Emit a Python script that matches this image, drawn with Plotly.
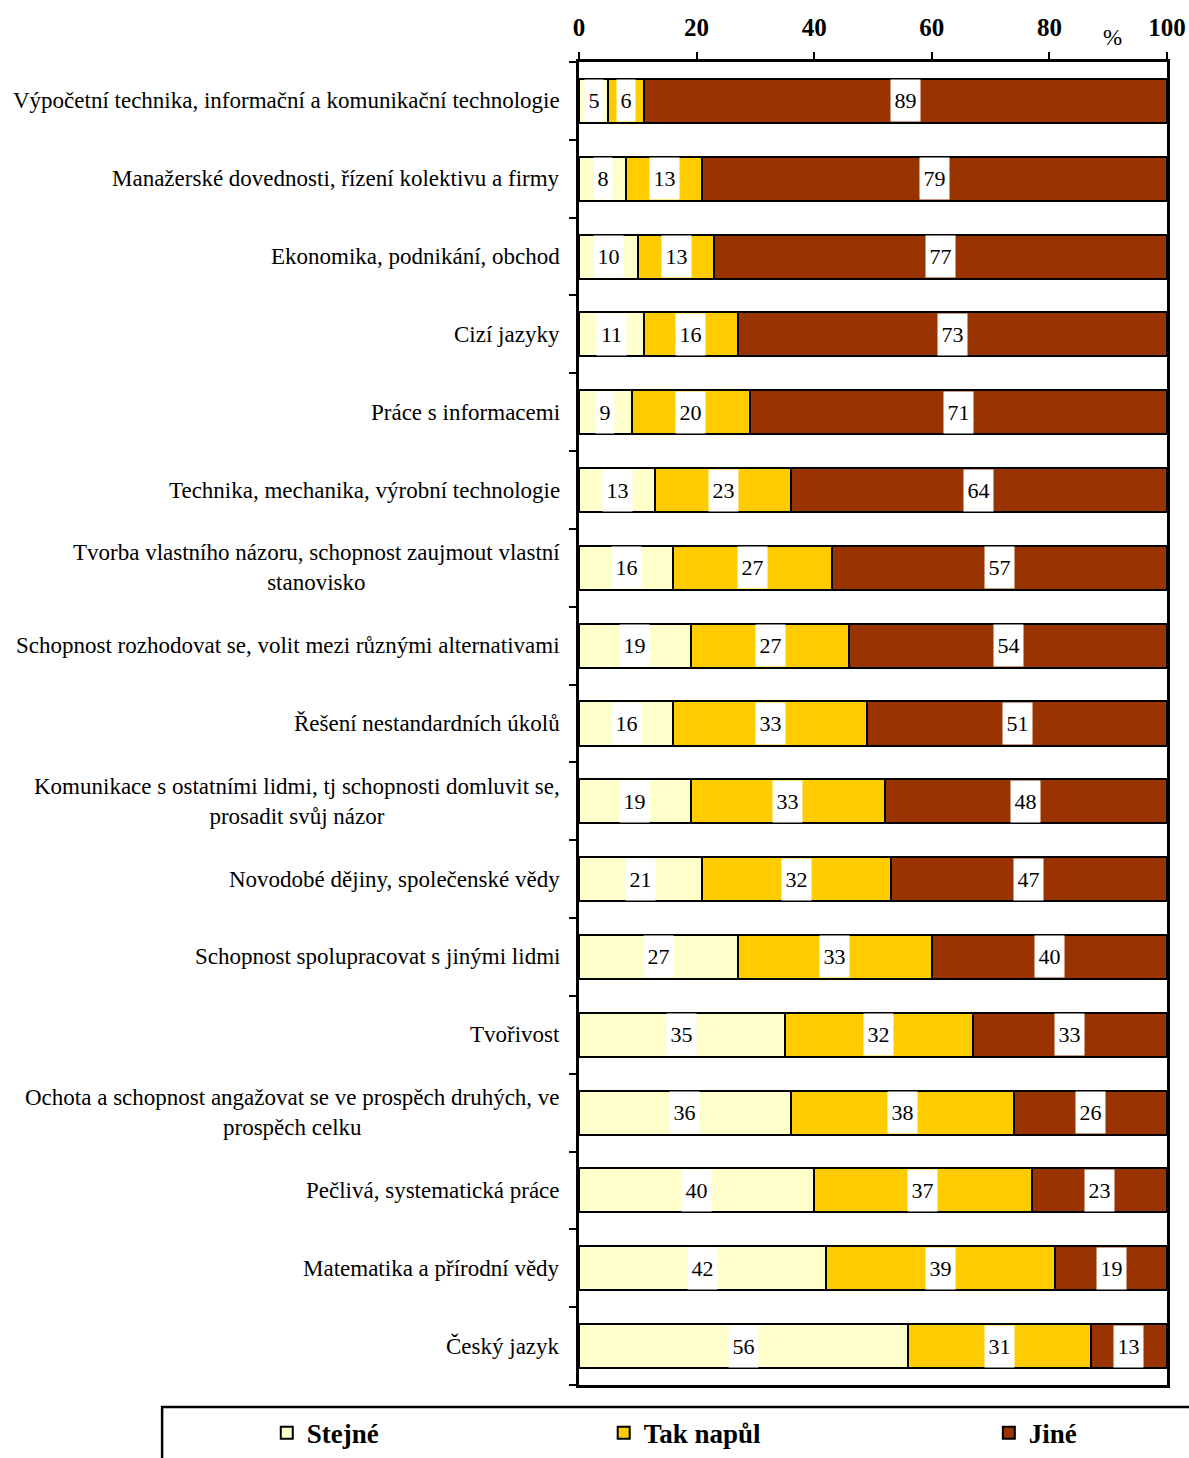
import plotly.graph_objects as go

categories = [
    "Výpočetní technika, informační a komunikační technologie",
    "Manažerské dovednosti, řízení kolektivu a firmy",
    "Ekonomika, podnikání, obchod",
    "Cizí jazyky",
    "Práce s informacemi",
    "Technika, mechanika, výrobní technologie",
    "Tvorba vlastního názoru, schopnost zaujmout vlastní<br>stanovisko",
    "Schopnost rozhodovat se, volit mezi různými alternativami",
    "Řešení nestandardních úkolů",
    "Komunikace s ostatními lidmi, tj schopnosti domluvit se,<br>prosadit svůj názor",
    "Novodobé dějiny, společenské vědy",
    "Schopnost spolupracovat s jinými lidmi",
    "Tvořivost",
    "Ochota a schopnost angažovat se ve prospěch druhých, ve<br>prospěch celku",
    "Pečlivá, systematická práce",
    "Matematika a přírodní vědy",
    "Český jazyk",
]
stejne = [5, 8, 10, 11, 9, 13, 16, 19, 16, 19, 21, 27, 35, 36, 40, 42, 56]
tak_napul = [6, 13, 13, 16, 20, 23, 27, 27, 33, 33, 32, 33, 32, 38, 37, 39, 31]
jine = [89, 79, 77, 73, 71, 64, 57, 54, 51, 48, 47, 40, 33, 26, 23, 19, 13]

series = [("Stejné", stejne, "#FFFFCC"), ("Tak napůl", tak_napul, "#FFCC00"), ("Jiné", jine, "#993300")]
x_ticks = [0, 20, 40, 60, 80, 100]

FONT = "Liberation Serif"
n = len(categories)
fig = go.Figure()
legends = ["legend2", "legend3", "legend4"]
for (name, vals, col), lg in zip(series, legends):
    fig.add_trace(go.Bar(
        y=list(range(n)), x=vals, name=name, orientation="h",
        marker=dict(color=col, line=dict(color="black", width=2)),
        legend=lg, hoverinfo="x+name",
    ))

annotations = []
for i in range(n):
    base = 0
    for name, vals, col in series:
        v = vals[i]
        annotations.append(dict(
            x=base + v / 2, y=i, xref="x", yref="y", text=str(v), showarrow=False,
            bgcolor="white", borderpad=0, width=18 if v < 10 else 29, height=41,
            font=dict(family=FONT, size=22, color="black"),
        ))
        base += v
    annotations.append(dict(
        x=0, y=i, xref="paper", yref="y", text=categories[i], showarrow=False,
        xanchor="right", align="center", xshift=-17,
        font=dict(family=FONT, size=23, color="black"),
    ))

annotations.append(dict(x=0.927, y=1, xref="paper", yref="paper", yshift=25, yanchor="middle",
                        text="%", showarrow=False, font=dict(family=FONT, size=23, color="black")))

fig.update_layout(
    width=1189, height=1458,
    margin=dict(l=579, r=22, t=62, b=73, autoexpand=False),
    paper_bgcolor="white", plot_bgcolor="white",
    barmode="stack", bargap=0.434,
    annotations=annotations,
    xaxis=dict(side="top", range=[0, 100], tickvals=x_ticks, ticks="outside", ticklen=7,
               tickwidth=2, tickcolor="black", showline=True, linecolor="black", linewidth=2.5,
               mirror=True, showgrid=False, zeroline=False, automargin=False,
               ticklabelstandoff=6,
               tickfont=dict(family=FONT, size=25, color="black", weight="bold")),
    yaxis=dict(range=[n - 0.5, -0.5], tickmode="array",
               tickvals=[k - 0.5 for k in range(n + 1)], showticklabels=False,
               ticks="outside", ticklen=7, tickwidth=2, tickcolor="black",
               showline=True, linecolor="black", linewidth=2.5, mirror=True,
               showgrid=False, zeroline=False, automargin=False),
    shapes=[dict(type="rect", xref="paper", yref="paper", x0=-0.709, x1=1.06,
                 y0=-0.07, y1=-0.0166, line=dict(color="black", width=2.5))],
)

leg_common = dict(orientation="h", yanchor="middle", y=-0.0365, xanchor="left",
                  font=dict(family=FONT, size=27, color="black", weight="bold"),
                  bgcolor="rgba(0,0,0,0)", borderwidth=0)
fig.update_layout(
    legend2=dict(x=-0.531, **leg_common),
    legend3=dict(x=0.042, **leg_common),
    legend4=dict(x=0.697, **leg_common),
)

post = ("document.body.style.margin='0';document.body.style.overflow='hidden';"
        "document.documentElement.style.overflow='hidden';")
fig.write_html("out.html", post_script=post, config={"displayModeBar": False})
